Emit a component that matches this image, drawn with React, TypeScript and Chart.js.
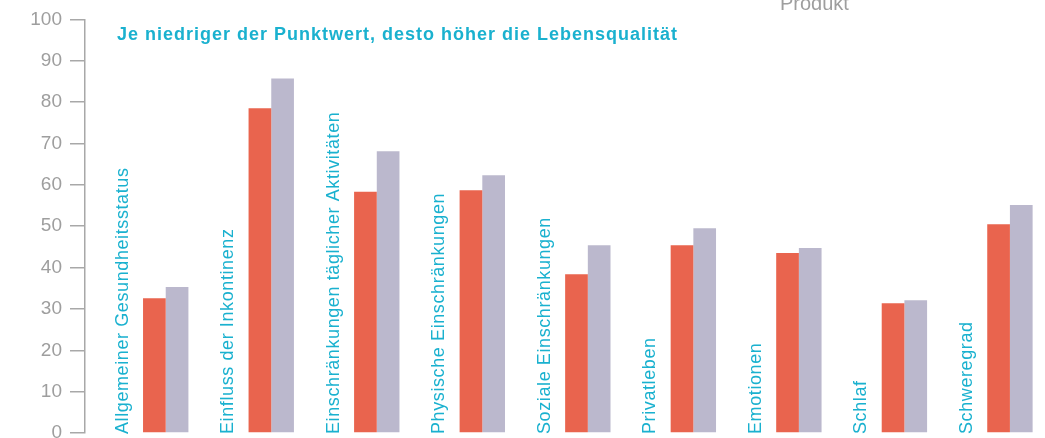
import React, { useEffect, useRef } from "react";
import { Chart, registerables } from "chart.js";

Chart.register(...registerables);

const categories: string[] = [
  "Allgemeiner Gesundheitsstatus",
  "Einfluss der Inkontinenz",
  "Einschränkungen täglicher Aktivitäten",
  "Physische Einschränkungen",
  "Soziale Einschränkungen",
  "Privatleben",
  "Emotionen",
  "Schlaf",
  "Schweregrad",
];

const seriesOhne: number[] = [32.6, 78.5, 58.3, 58.7, 38.4, 45.4, 43.5, 31.4, 50.5];
const seriesMit: number[] = [35.3, 85.7, 68.1, 62.3, 45.4, 49.5, 44.7, 32.1, 55.1];

const yTicks: number[] = [0, 10, 20, 30, 40, 50, 60, 70, 80, 90, 100];

const titleText = "Je niedriger der Punktwert, desto höher die Lebensqualität";
const legendText = "Produkt";

const CYAN = "#1ab1cf";
const RED = "#e9644e";
const PURPLE = "#bbb8cd";
const GRAY = "#9e9e9e";
const AXIS = "#a8a8a8";

const textPlugin = {
  id: "customText",
  afterDatasetsDraw(chart: any) {
    const { ctx, scales } = chart;
    const xs = scales.x;
    const ys = scales.y;
    ctx.save();
    ctx.fillStyle = CYAN;
    ctx.font = "18px 'Liberation Sans', Arial, sans-serif";
    ctx.letterSpacing = "0.6px";
    ctx.textAlign = "left";
    ctx.textBaseline = "alphabetic";
    const y0 = ys.getPixelForValue(0) + 1;
    categories.forEach((label, i) => {
      const x = xs.getPixelForValue(i) - 38;
      ctx.save();
      ctx.translate(x, y0);
      ctx.rotate(-Math.PI / 2);
      ctx.fillText(label, 0, 0);
      ctx.restore();
    });
    ctx.font = "bold 18px 'Liberation Sans', Arial, sans-serif";
    ctx.letterSpacing = "1px";
    ctx.fillStyle = CYAN;
    ctx.fillText(titleText, 117, 39.5);
    ctx.font = "20px 'Liberation Sans', Arial, sans-serif";
    ctx.letterSpacing = "0px";
    ctx.fillStyle = GRAY;
    ctx.fillText(legendText, 780, 10);
    ctx.restore();
  },
};

export default function App() {
  const ref = useRef<HTMLCanvasElement | null>(null);
  useEffect(() => {
    if (!ref.current) return;
    const chart = new Chart(ref.current, {
      type: "bar",
      data: {
        datasets: [
          {
            label: "ohne Produkt",
            data: seriesOhne.map((v, i) => ({ x: i, y: v })),
            backgroundColor: RED,
            borderWidth: 0,
          },
          {
            label: "mit Produkt",
            data: seriesMit.map((v, i) => ({ x: i, y: v })),
            backgroundColor: PURPLE,
            borderWidth: 0,
          },
        ],
      },
      plugins: [textPlugin],
      options: {
        animation: false,
        responsive: false,
        maintainAspectRatio: false,
        layout: { padding: { top: 19, bottom: 27, right: 5, left: 0 } },
        datasets: {
          bar: { barPercentage: 1, categoryPercentage: 0.43 },
        },
        plugins: {
          legend: { display: false },
          tooltip: { enabled: false },
          title: { display: false },
        },
        scales: {
          x: {
            type: "linear",
            display: false,
            offset: false,
            bounds: "data",
            min: -0.765,
            max: 8.285,
            afterBuildTicks: (s: any) => {
              s.ticks = categories.map((_, i) => ({ value: i }));
            },
          },
          y: {
            min: 0,
            max: 100,
            afterFit: (s: any) => {
              s.width = 85;
            },
            afterBuildTicks: (s: any) => {
              s.ticks = yTicks.map((v) => ({ value: v }));
            },
            ticks: {
              color: GRAY,
              font: { family: "'Liberation Sans', Arial, sans-serif", size: 19 },
              padding: 8,
            },
            grid: {
              drawOnChartArea: false,
              drawTicks: true,
              tickLength: 15,
              color: AXIS,
              lineWidth: 1.5,
            },
            border: { display: true, color: AXIS, width: 1.5 },
          },
        },
      },
    });
    return () => chart.destroy();
  }, []);
  return (
    <div
      style={{
        position: "absolute",
        left: 0,
        top: 0,
        width: 1045,
        height: 438,
        overflow: "hidden",
        background: "#fff",
      }}
    >
      <canvas ref={ref} width={1045} height={460} style={{ display: "block" }} />
    </div>
  );
}
